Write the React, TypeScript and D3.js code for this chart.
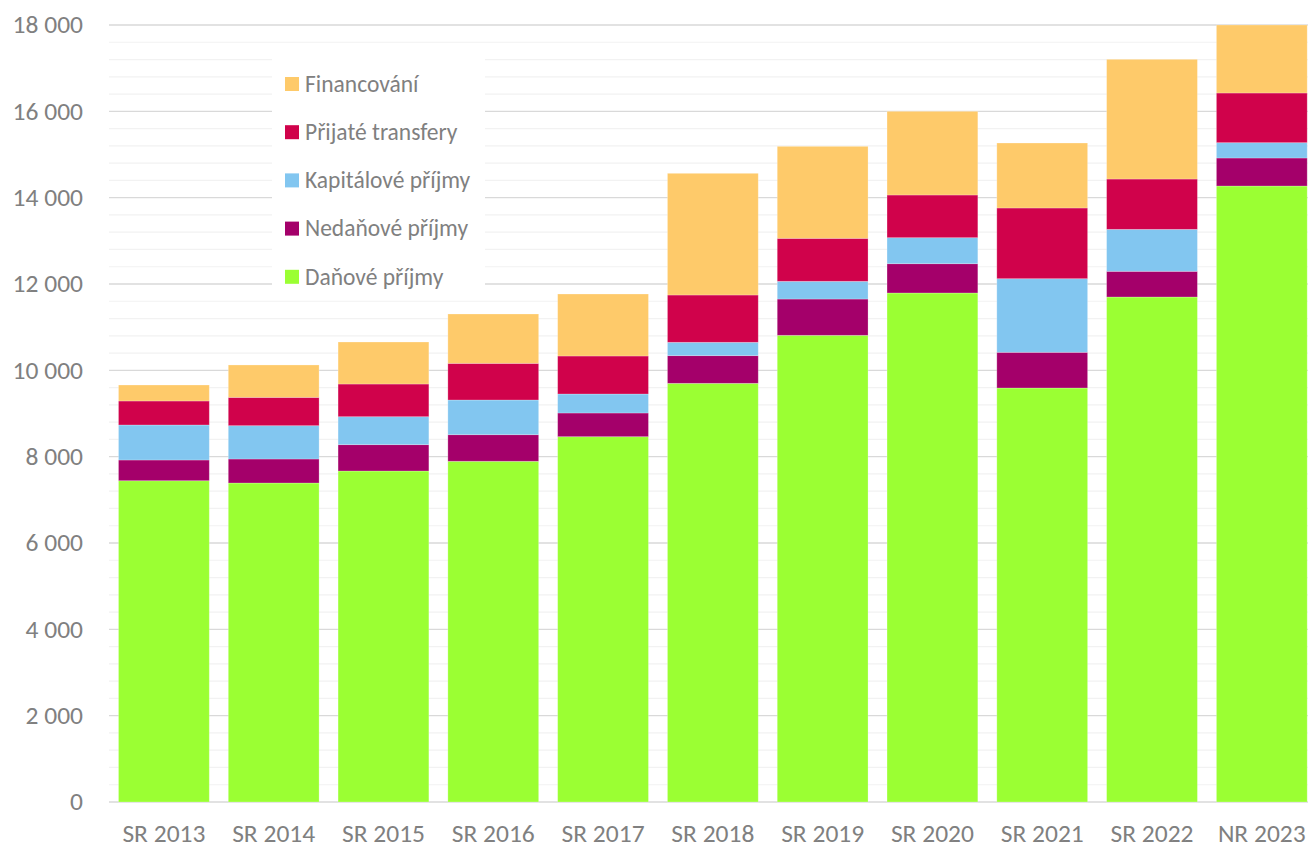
import React from "react";
import * as d3 from "d3";

const categories = ["SR 2013", "SR 2014", "SR 2015", "SR 2016", "SR 2017", "SR 2018", "SR 2019", "SR 2020", "SR 2021", "SR 2022", "NR 2023"];
const danove = [7443, 7390, 7668, 7893, 8463, 9699, 10811, 11792, 9591, 11699, 14270];
const nedanove = [480, 556, 610, 616, 549, 641, 841, 678, 827, 595, 649];
const kapitalove = [811, 772, 648, 804, 440, 309, 410, 603, 1705, 972, 355];
const transfery = [556, 656, 757, 849, 880, 1096, 996, 989, 1638, 1166, 1151];
const financovani = [370, 750, 973, 1143, 1436, 2819, 2131, 1938, 1505, 2773, 1575];

const seriesNames = ["Daňové příjmy", "Nedaňové příjmy", "Kapitálové příjmy", "Přijaté transfery", "Financování"];
const seriesColors = ["#9BFF33", "#A4006A", "#82C6F0", "#D0024B", "#FECA6A"];
const yTicks = [0, 2000, 4000, 6000, 8000, 10000, 12000, 14000, 16000, 18000];

const W = 1308;
const H = 848;
const FONT = "Carlito, 'Open Sans', sans-serif";
const FS = 25.5;
const LFS = 23.5;

export default function App() {
  const seriesValues = [danove, nedanove, kapitalove, transfery, financovani];
  const rows = categories.map((c, i) => {
    const r: any = { cat: c };
    seriesNames.forEach((s, k) => (r[s] = seriesValues[k][i]));
    return r;
  });
  const stacked = d3.stack<any>().keys(seriesNames)(rows);

  const x = d3.scaleBand<string>().domain(categories).range([109, 1316.7]).paddingInner(0.173).paddingOuter(0.0865);
  const y = d3.scaleLinear().domain([0, 18000]).range([802, 25]);
  const fmt = d3.formatLocale({ decimal: ",", thousands: "\u00a0", grouping: [3], currency: ["", ""] }).format(",d");

  const minor = d3.range(0, 18001, 400).filter((v) => v % 2000 !== 0);

  const legendItems = seriesNames.map((n, i) => ({ n, c: seriesColors[i] })).reverse();

  return (
    <svg width={W} height={H} style={{ position: "absolute", left: 0, top: 0, background: "#fff" }} fontFamily={FONT}>
      <rect x={0} y={0} width={W} height={H} fill="#fff" />
      {minor.map((v) => (
        <line key={"m" + v} x1={109} x2={W} y1={y(v)} y2={y(v)} stroke="#f2f2f2" strokeWidth={1.2} />
      ))}
      {yTicks.map((v) => (
        <line key={"g" + v} x1={109} x2={W} y1={y(v)} y2={y(v)} stroke="#d9d9d9" strokeWidth={1.3} />
      ))}
      {yTicks.map((v) => (
        <text key={"t" + v} x={83} y={y(v)} dy="0.33em" textAnchor="end" fontSize={FS} fill="#808080">
          {fmt(v)}
        </text>
      ))}
      {stacked.map((layer, k) => (
        <g key={layer.key} fill={seriesColors[k]}>
          {layer.map((d, i) => (
            <rect
              key={i}
              x={x(categories[i])}
              width={x.bandwidth()}
              y={y(d[1])}
              height={y(d[0]) - y(d[1])}
              stroke="#ffffff"
              strokeOpacity={0.3}
              strokeWidth={0.8}
            />
          ))}
        </g>
      ))}
      {categories.map((c) => (
        <text key={c} x={(x(c) as number) + x.bandwidth() / 2} y={842} textAnchor="middle" fontSize={FS} fill="#808080">
          {c}
        </text>
      ))}
      <rect x={272} y={50} width={213} height={248} fill="#fff" />
      {legendItems.map((it, i) => (
        <g key={it.n} transform={`translate(285, ${84 + i * 48.2})`}>
          <rect x={0} y={-7} width={14} height={14} fill={it.c} />
          <text x={20} y={0} dy="0.33em" fontSize={LFS} fill="#808080">
            {it.n}
          </text>
        </g>
      ))}
    </svg>
  );
}
